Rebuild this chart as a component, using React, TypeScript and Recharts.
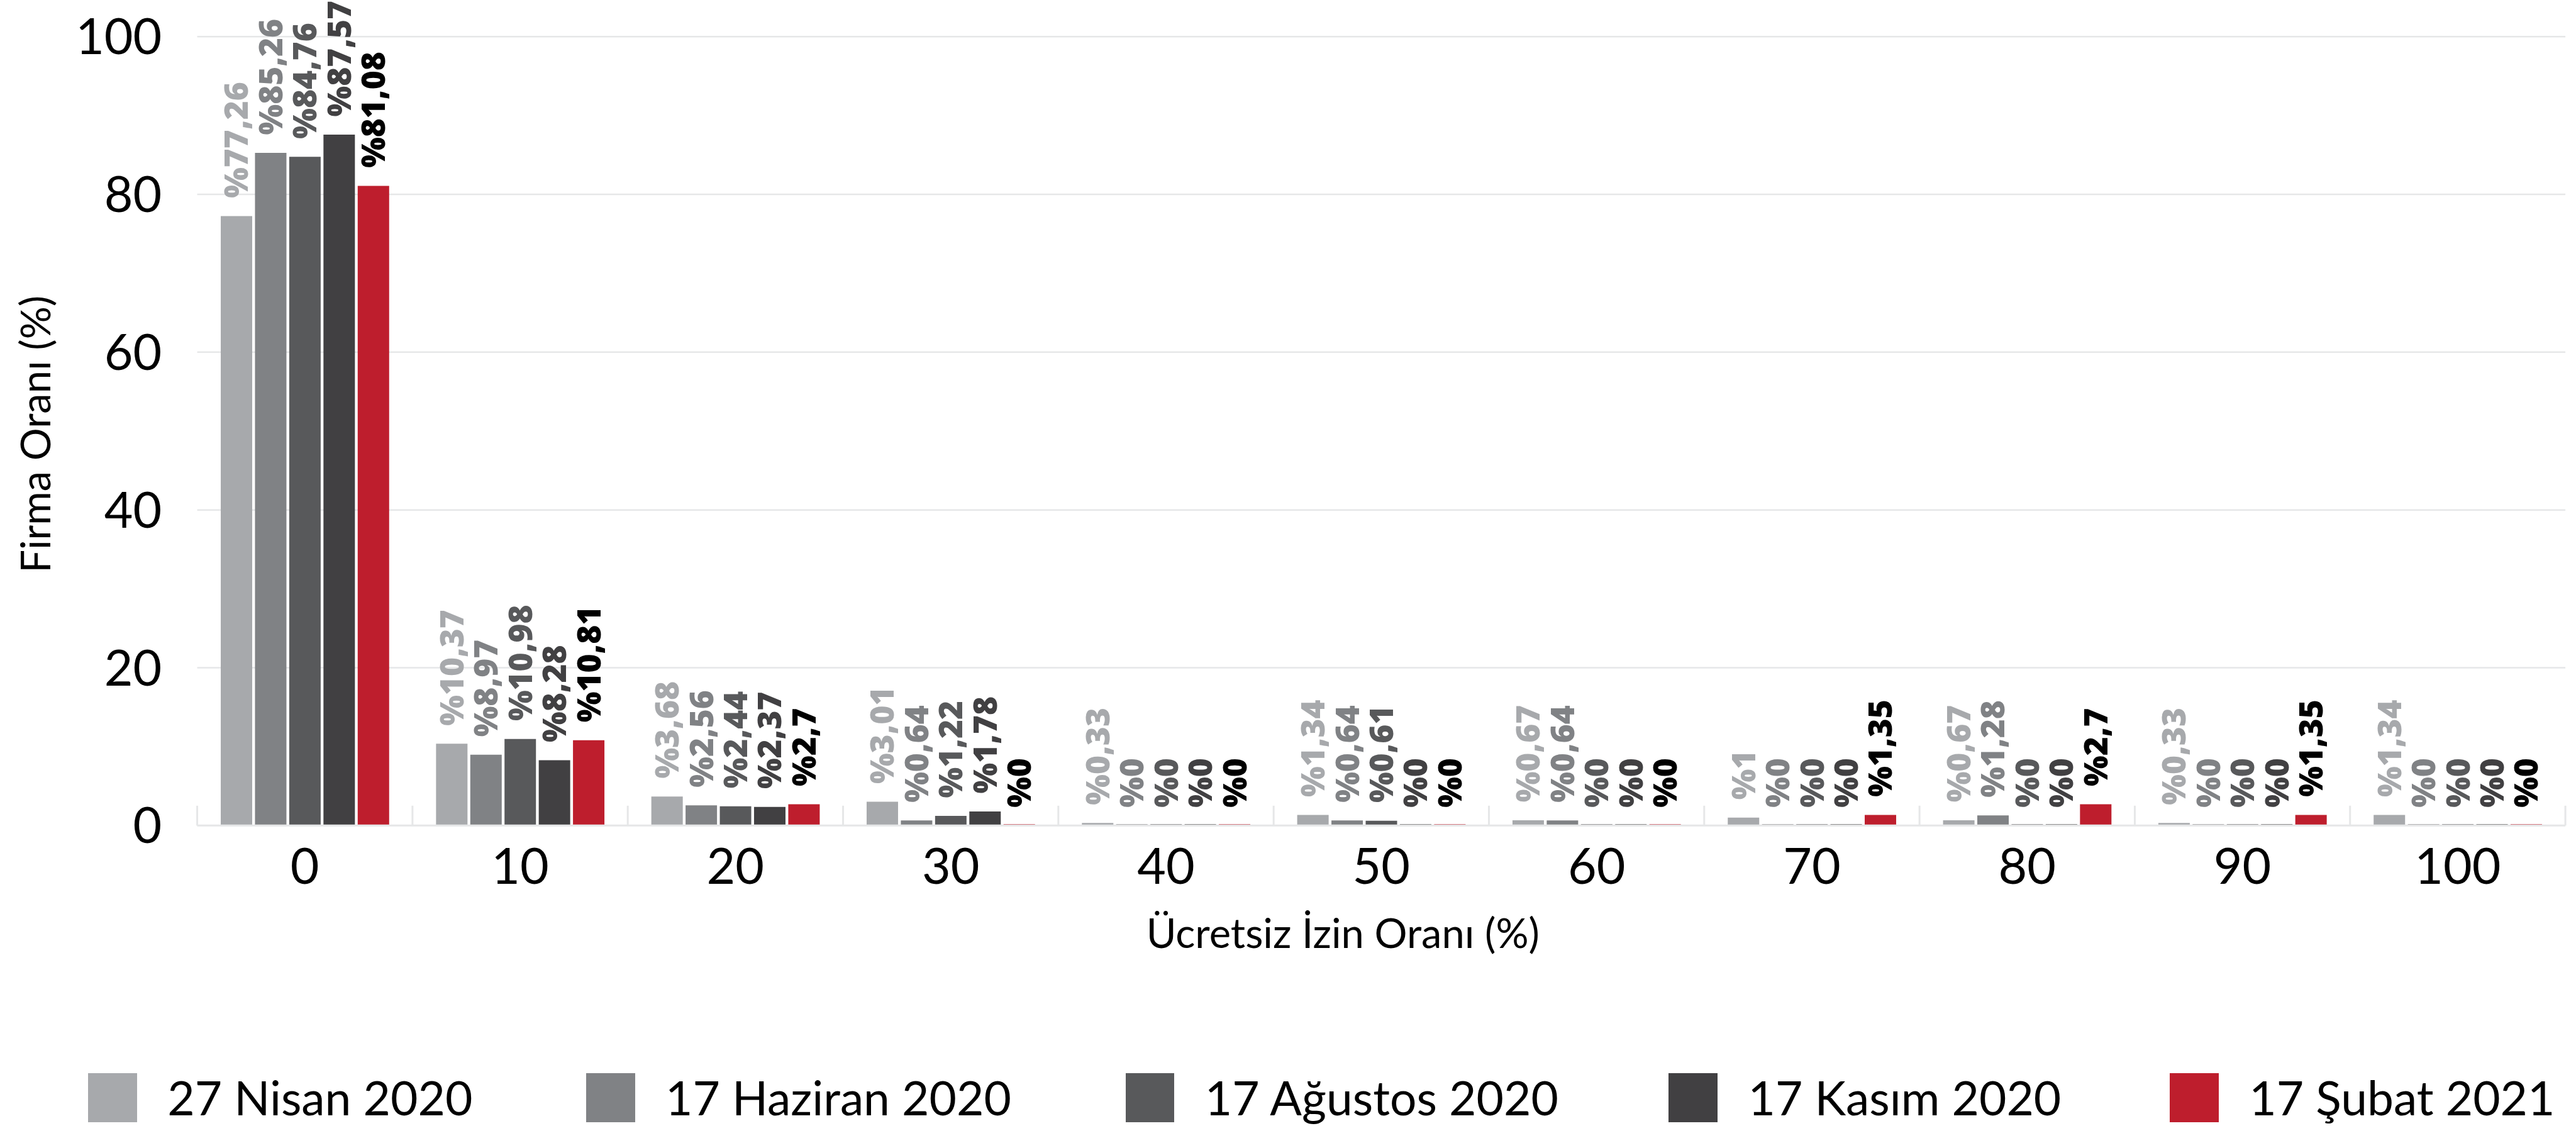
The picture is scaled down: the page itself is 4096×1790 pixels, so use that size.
import React from 'react';
import { BarChart, Bar, XAxis, YAxis, CartesianGrid, LabelList, Legend } from 'recharts';

// ---- data ----
const categories = ['0', '10', '20', '30', '40', '50', '60', '70', '80', '90', '100'];
const seriesNames = ['27 Nisan 2020', '17 Haziran 2020', '17 Ağustos 2020', '17 Kasım 2020', '17 Şubat 2021'];
const nisan2020 = [77.26, 10.37, 3.68, 3.01, 0.33, 1.34, 0.67, 1, 0.67, 0.33, 1.34];
const haziran2020 = [85.26, 8.97, 2.56, 0.64, 0, 0.64, 0.64, 0, 1.28, 0, 0];
const agustos2020 = [84.76, 10.98, 2.44, 1.22, 0, 0.61, 0, 0, 0, 0, 0];
const kasim2020 = [87.57, 8.28, 2.37, 1.78, 0, 0, 0, 0, 0, 0, 0];
const subat2021 = [81.08, 10.81, 2.7, 0, 0, 0, 0, 1.35, 2.7, 1.35, 0];
const yTicks = [0, 20, 40, 60, 80, 100];
const yTitle = 'Firma Oranı (%)';
const xTitle = 'Ücretsiz İzin Oranı (%)';

const barColors = ['#a7a9ac', '#808285', '#58595b', '#414042', '#be1e2d'];
const labelColors = ['#a7a9ac', '#808285', '#58595b', '#414042', '#000000'];

const seriesValues = [nisan2020, haziran2020, agustos2020, kasim2020, subat2021];
const seriesKeys = ['s0', 's1', 's2', 's3', 's4'];

const data = categories.map((c, i) => {
  const row: Record<string, any> = { category: c };
  seriesValues.forEach((vals, k) => {
    row[seriesKeys[k]] = vals[i];
  });
  return row;
});

// ---- layout ----
const S = 0.986;
const W = 4096;
const H = 1790;
const FONT = "Lato, 'Open Sans', sans-serif";
const LABEL_FONT = "'Open Sans', sans-serif";
const GRID = '#e6e7e8';
const PLOT_BOTTOM = 1331 * S;
const SEP_LEN = 32 * S;
// left edges of the legend slots (reference pixels)
const LEGEND_SLOTS = [142, 945, 1815, 2691, 3499];

const fmt = (v: any) => '%' + String(v).replace('.', ',');

const makeLabel = (color: string, values: number[]) => (props: any) => {
  const { x, y, width, height, index } = props;
  const v = values[index];
  if (v === undefined) return null;
  const cx = Number(x) + Number(width) / 2;
  const top = Math.min(Number(y), Number(y) + Number(height || 0));
  const cy = (v === 0 ? PLOT_BOTTOM : top) - 29 * S;
  return (
    <text
      transform={`translate(${cx},${cy}) rotate(-90)`}
      x={0}
      y={0}
      dy="0.36em"
      textAnchor="start"
      fill={color}
      fontFamily={LABEL_FONT}
      fontWeight={800}
      fontSize={52 * S}
    >
      {fmt(v)}
    </text>
  );
};

const YTitle = (props: any) => {
  const vb = props.viewBox || {};
  const cx = vb.x + 57 * S;
  const cy = vb.y + vb.height / 2 + 5;
  return (
    <text
      transform={`translate(${cx},${cy}) rotate(-90)`}
      x={0}
      y={0}
      dy="0.36em"
      textAnchor="middle"
      fill="#000"
      fontFamily={FONT}
      fontSize={66 * S}
    >
      {yTitle}
    </text>
  );
};

const XTitle = (props: any) => {
  const vb = props.viewBox || {};
  const cx = vb.x + vb.width / 2 - 61;
  const cy = vb.y + 174 * S;
  return (
    <text x={cx} y={cy} dy="0.36em" textAnchor="middle" fill="#000" fontFamily={FONT} fontSize={66 * S}>
      {xTitle}
    </text>
  );
};

const renderLegend = () => (
  <div style={{ display: 'flex', alignItems: 'center' }}>
    {seriesNames.map((name, i) => {
      const w = i < LEGEND_SLOTS.length - 1 ? (LEGEND_SLOTS[i + 1] - LEGEND_SLOTS[i]) * S : undefined;
      return (
        <div key={name} style={{ display: 'flex', alignItems: 'center', width: w, flex: 'none' }}>
          <div style={{ width: 79 * S, height: 79 * S, background: barColors[i], marginRight: 49 * S, flex: 'none' }} />
          <span style={{ fontFamily: FONT, fontSize: 76 * S, color: '#000', lineHeight: 1, whiteSpace: 'nowrap' }}>
            {name}
          </span>
        </div>
      );
    })}
  </div>
);

// band boundaries of the category axis (from the axis range / plot offset)
const sepGenerator = (props: any) => {
  try {
    const n = categories.length;
    let r0: number | undefined;
    let r1: number | undefined;
    const sc = props && props.xAxis && props.xAxis.scale;
    if (sc && typeof sc.range === 'function') {
      const r = sc.range();
      r0 = Number(r[0]);
      r1 = Number(r[r.length - 1]);
    }
    if (!(isFinite(r0 as number) && isFinite(r1 as number)) && props && props.offset) {
      r0 = Number(props.offset.left);
      r1 = r0 + Number(props.offset.width);
    }
    if (!(isFinite(r0 as number) && isFinite(r1 as number))) return [];
    const out: number[] = [];
    for (let k = 0; k <= n; k++) out.push((r0 as number) + ((r1 as number) - (r0 as number)) * (k / n));
    return out;
  } catch (e) {
    return [];
  }
};

export default function App() {
  return (
    <div style={{ position: 'absolute', left: 0, top: 0, width: W, height: H, background: '#fff' }}>
      <BarChart
        width={W}
        height={H}
        data={data}
        margin={{ top: 59 * S, right: W - 4137 * S, bottom: H - PLOT_BOTTOM - 150, left: 0 }}
        barCategoryGap={38 * S}
        barGap={4.5 * S}
      >
        <CartesianGrid vertical={false} stroke={GRID} strokeWidth={2.5} />
        <CartesianGrid
          horizontal={false}
          verticalCoordinatesGenerator={sepGenerator}
          y={PLOT_BOTTOM - SEP_LEN}
          height={SEP_LEN}
          stroke={GRID}
          strokeWidth={3}
        />
        <YAxis
          type="number"
          domain={[0, 100]}
          ticks={yTicks}
          width={318 * S}
          axisLine={false}
          tickLine={false}
          tickSize={0}
          tickMargin={57 * S}
          tick={{ fontFamily: FONT, fontSize: 80 * S, fill: '#000' }}
          label={<YTitle />}
        />
        <XAxis
          dataKey="category"
          type="category"
          height={150}
          interval={0}
          axisLine={{ stroke: GRID, strokeWidth: 3 }}
          tickLine={false}
          tickSize={0}
          tickMargin={37 * S}
          tick={{ fontFamily: FONT, fontSize: 80 * S, fill: '#000' }}
          label={<XTitle />}
        />
        <Legend
          layout="horizontal"
          verticalAlign="middle"
          align="center"
          content={renderLegend}
          wrapperStyle={{ left: LEGEND_SLOTS[0] * S, top: 1730 * S, width: 3990 * S, height: 79 * S }}
        />
        {seriesKeys.map((k, i) => (
          <Bar key={k} dataKey={k} name={seriesNames[i]} fill={barColors[i]} minPointSize={2} isAnimationActive={false}>
            <LabelList dataKey={k} content={makeLabel(labelColors[i], seriesValues[i])} />
          </Bar>
        ))}
      </BarChart>
    </div>
  );
}
